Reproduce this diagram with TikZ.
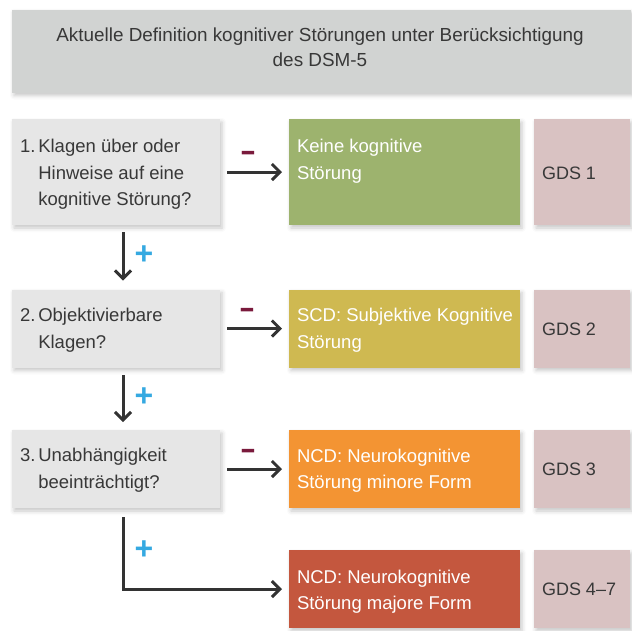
\documentclass[tikz,border=0pt]{standalone}
\usepackage{fontspec}
\setmainfont{Liberation Sans}
\usetikzlibrary{arrows.meta,shadows.blur}
\definecolor{titlebg}{HTML}{D1D3D2}
\definecolor{leftbg}{HTML}{E6E6E6}
\definecolor{greenbg}{HTML}{9DB36E}
\definecolor{goldbg}{HTML}{CFB951}
\definecolor{orangebg}{HTML}{F39433}
\definecolor{redbg}{HTML}{C4573E}
\definecolor{gdsbg}{HTML}{D9C2C2}
\definecolor{minuscol}{HTML}{7A1A3C}
\definecolor{pluscol}{HTML}{35A9E1}
\definecolor{arrowgray}{HTML}{333333}
\definecolor{textgray}{HTML}{383838}
\begin{document}
\begin{tikzpicture}[x=1pt,y=-1pt,
  box/.style={draw=none, inner sep=0pt, outer sep=0pt, anchor=north west,
    blur shadow={shadow xshift=2pt, shadow yshift=-3pt, shadow blur radius=4pt, shadow opacity=22}},
  leftbox/.style={box, fill=leftbg, minimum width=208pt},
  resbox/.style={box, minimum width=231pt},
  gdsbox/.style={box, fill=gdsbg, minimum width=96pt},
  txt/.style={inner sep=0pt, outer sep=0pt, anchor=base west, font=\fontsize{18.5}{26.5}\selectfont, text=textgray},
  wtxt/.style={txt, text=white},
  gtxt/.style={txt, font=\fontsize{18}{24}\selectfont},
  arr/.style={draw=arrowgray, line width=3pt, -{Straight Barb[length=8pt, width=16pt]}},
  minussign/.style={inner sep=0pt, anchor=base, text=minuscol, font=\fontsize{25}{25}\selectfont\bfseries},
  plussign/.style={inner sep=0pt, anchor=base, text=pluscol, font=\fontsize{32}{32}\selectfont\bfseries},
]
\useasboundingbox (0,0) rectangle (632,630);

% title
\node[box, fill=titlebg, minimum width=619pt, minimum height=83pt] (T) at (12,9.5) {};
\node[txt, anchor=base, font=\fontsize{18.9}{25.7}\selectfont] (Tt) at (320,41)
  {\begin{tabular}[t]{@{}c@{}}Aktuelle Definition kognitiver Störungen unter Berücksichtigung\\des DSM-5\end{tabular}};

% row 1
\node[leftbox, minimum height=106pt] (L1) at (12,119) {};
\node[resbox, fill=greenbg, minimum height=106pt] (G1) at (289,119) {};
\node[gdsbox, minimum height=106pt] (D1) at (534,119) {};
\node[txt] (L1t) at (20,152.7)
  {\begin{tabular}[t]{@{}l@{}l@{}}\makebox[18.3pt][l]{1.}&Klagen über oder\\&Hinweise auf eine\\&kognitive Störung?\end{tabular}};
\node[wtxt] (G1t) at (297,152.7)
  {\begin{tabular}[t]{@{}l@{}}Keine kognitive\\Störung\end{tabular}};
\node[gtxt] (D1t) at (542,179) {GDS 1};

% row 2
\node[leftbox, minimum height=78pt] (L2) at (12,289.5) {};
\node[resbox, fill=goldbg, minimum height=78pt] (G2) at (289,289.5) {};
\node[gdsbox, minimum height=78pt] (D2) at (534,289.5) {};
\node[txt] (L2t) at (20,321.7)
  {\begin{tabular}[t]{@{}l@{}l@{}}\makebox[18.3pt][l]{2.}&Objektivierbare\\&Klagen?\end{tabular}};
\node[wtxt] (G2t) at (297,321.7)
  {\begin{tabular}[t]{@{}l@{}}SCD: Subjektive Kognitive\\Störung\end{tabular}};
\node[gtxt] (D2t) at (542,335) {GDS 2};

% row 3
\node[leftbox, minimum height=78pt] (L3) at (12,430) {};
\node[resbox, fill=orangebg, minimum height=78pt] (G3) at (289,430) {};
\node[gdsbox, minimum height=78pt] (D3) at (534,430) {};
\node[txt] (L3t) at (20,461.7)
  {\begin{tabular}[t]{@{}l@{}l@{}}\makebox[18.3pt][l]{3.}&Unabhängigkeit\\&beeinträchtigt?\end{tabular}};
\node[wtxt] (G3t) at (297,462)
  {\begin{tabular}[t]{@{}l@{}}NCD: Neurokognitive\\Störung minore Form\end{tabular}};
\node[gtxt] (D3t) at (542,475.5) {GDS 3};

% row 4
\node[resbox, fill=redbg, minimum height=78pt] (G4) at (289,550) {};
\node[gdsbox, minimum height=78pt] (D4) at (534,550) {};
\node[wtxt] (G4t) at (297,583)
  {\begin{tabular}[t]{@{}l@{}}NCD: Neurokognitive\\Störung majore Form\end{tabular}};
\node[gtxt] (D4t) at (542,595.5) {GDS 4–7};

% connectors
\draw[arr, shorten <=7pt, shorten >=7pt] (L1) -- (G1);
\draw[arr, shorten <=7pt, shorten >=7pt] (L2) -- (G2);
\draw[arr, shorten <=7pt, shorten >=7pt] (L3) -- (G3);
\draw[arr, shorten <=7pt, shorten >=9pt] ([xshift=7pt]L1.south) -- ([xshift=7pt]L2.north);
\draw[arr, shorten <=7.5pt, shorten >=8pt] ([xshift=7pt]L2.south) -- ([xshift=7pt]L3.north);
\draw[arr, shorten <=9pt, shorten >=7pt] ([xshift=7pt]L3.south) |- (G4.west);

% signs
\node[minussign] (m1) at (248,162.5) {\scalebox{1}[1.4]{–}};
\node[minussign] (m2) at (247,319.5) {\scalebox{1}[1.4]{–}};
\node[minussign] (m3) at (248,460.5) {\scalebox{1}[1.4]{–}};
\node[plussign] (p1) at (144,264) {+};
\node[plussign] (p2) at (144,406) {+};
\node[plussign] (p3) at (144,559) {+};
\end{tikzpicture}
\end{document}
